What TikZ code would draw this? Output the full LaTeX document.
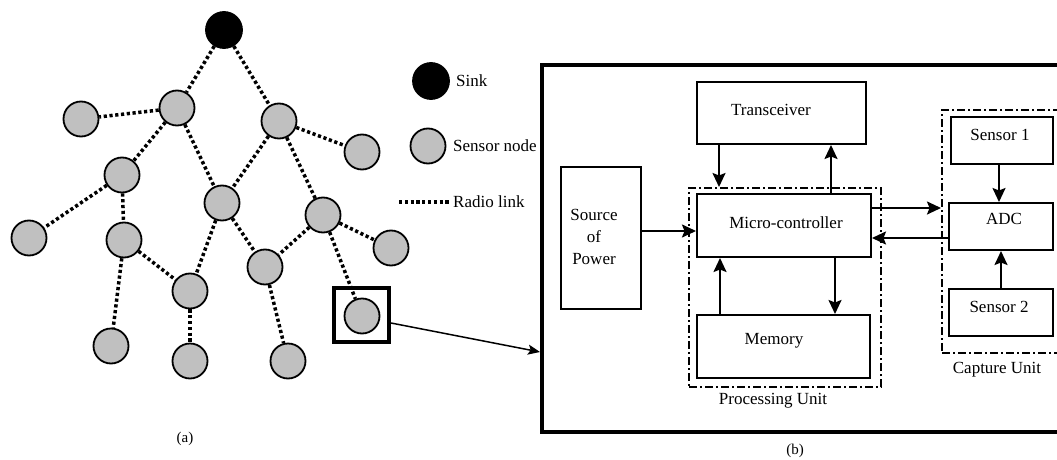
\documentclass[tikz,border=0pt]{standalone}
\usepackage{fontspec}
\setmainfont{Liberation Serif}
\usetikzlibrary{arrows.meta}
\begin{document}
\begin{tikzpicture}[x=1pt,y=-1pt,
  font=\fontsize{17}{22}\selectfont,
  sensor/.style={circle, draw, line width=1.8pt, fill=nodegray, minimum size=35pt, inner sep=0pt},
  sinknode/.style={circle, draw, line width=1.8pt, fill=black, minimum size=36pt, inner sep=0pt},
  radio/.style={line width=3.5pt, dash pattern=on 3.2pt off 2.6pt},
  blk/.style={draw, line width=2pt, inner sep=0pt},
  unit/.style={draw, line width=2pt, inner sep=0pt, dash pattern=on 8pt off 3pt on 2pt off 3pt},
  arr/.style={line width=2pt, -{Stealth[length=14pt, width=13pt, inset=2.5pt]}},
  zoomarr/.style={line width=1.5pt, -{Stealth[length=12pt, width=10pt, inset=2.5pt]}},
  lbl/.style={inner sep=0pt, anchor=west},
  txt/.style={inner sep=0pt}
]
\definecolor{nodegray}{RGB}{192,192,192}
\clip (0,0) rectangle (1057,460);
\fill[white] (0,0) rectangle (1057,460);

% ---------- (a) sensor network tree ----------
\node[sinknode] (sink) at (224,30) {};
\node[sensor] (A) at (177,108) {};
\node[sensor] (B) at (81,119) {};
\node[sensor] (C) at (279,121) {};
\node[sensor] (D) at (362,152) {};
\node[sensor] (E) at (122,175) {};
\node[sensor] (F) at (222,203) {};
\node[sensor] (G) at (323,215) {};
\node[sensor] (H) at (29,238) {};
\node[sensor] (I) at (124,240) {};
\node[sensor] (J) at (391,248) {};
\node[sensor] (K) at (265,267) {};
\node[sensor] (L) at (190,291) {};
\node[sensor] (M) at (362,316) {};
\node[sensor] (N) at (111,346) {};
\node[sensor] (O) at (190,361) {};
\node[sensor] (P) at (288,361) {};

\foreach \u/\v in {sink/A, sink/C, A/B, A/E, A/F, C/D, C/F, C/G,
                   E/H, E/I, I/L, I/N, F/L, F/K, G/K, G/J, G/M, L/O, K/P}
  \draw[radio] (\u) -- (\v);

% highlighted node
\node[draw, line width=4pt, minimum width=55pt, minimum height=54pt, inner sep=0pt] (focus) at (361.5,315) {};

% legend
\node[sinknode] (legsink) at (431,81) {};
\node[lbl] (legsinktxt) at (456,81) {Sink};
\node[sensor] (legnode) at (428,146) {};
\node[lbl] (legnodetxt) at (453,146) {Sensor node};
\coordinate (linkA) at (399,202);
\coordinate (linkB) at (450,202);
\draw[radio] (linkA) -- (linkB);
\node[lbl] (leglinktxt) at (453,202) {Radio link};

\node[txt, font=\fontsize{15}{18}\selectfont] (capa) at (185,439) {(a)};

% ---------- (b) sensor node architecture ----------
\node[draw, line width=4pt, minimum width=528pt, minimum height=367pt, inner sep=0pt] (panel) at (806,248.5) {};

\node[blk, minimum width=169pt, minimum height=62pt] (trx) at (781.5,113) {};
\node[txt] (trxtxt) at (771,110) {Transceiver};

\node[blk, minimum width=80pt, minimum height=142pt] (src) at (601,238) {};
\node[txt, align=center] (srctxt) at (594,237) {Source\\of\\Power};

\node[unit, minimum width=192pt, minimum height=199pt] (proc) at (785,287.5) {};
\node[txt] (proctxt) at (773,401) {Processing Unit};

\node[blk, minimum width=174pt, minimum height=63pt] (mcu) at (784,225.5) {};
\node[txt] (mcutxt) at (786,223) {Micro-controller};

\node[blk, minimum width=173pt, minimum height=63pt] (mem) at (783.5,346.5) {};
\node[txt] (memtxt) at (774,341) {Memory};

\node[unit, minimum width=122pt, minimum height=243pt] (cap) at (1003,231.5) {};
\node[txt] (captxt) at (997,370) {Capture Unit};

\node[blk, minimum width=102pt, minimum height=47pt] (s1) at (1002,140.5) {};
\node[txt] (s1txt) at (1000,135) {Sensor 1};

\node[blk, minimum width=104pt, minimum height=47pt] (adc) at (1001,226.5) {};
\node[txt] (adctxt) at (1004,219) {ADC};

\node[blk, minimum width=104pt, minimum height=47pt] (s2) at (1001,312.5) {};
\node[txt] (s2txt) at (999,307) {Sensor 2};

\node[txt, font=\fontsize{15}{18}\selectfont] (capb) at (795,451) {(b)};

% data paths
\draw[arr] ([xshift=-62.5pt]trx.south) -- ([xshift=-62.5pt]trx.south |- proc.north);
\draw[arr] ([xshift=47pt]mcu.north) -- ([xshift=47pt]mcu.north |- trx.south);
\draw[arr] ([yshift=7pt]src.east) -- ([yshift=7pt]src.east -| mcu.west);
\draw[arr] ([yshift=17.5pt]mcu.east) -- ([yshift=17.5pt]mcu.east -| cap.west);
\draw[arr] ([yshift=-11.5pt]adc.west) -- ([yshift=-11.5pt]adc.west -| mcu.east);
\draw[arr] ([xshift=-63.5pt]mem.north) -- ([xshift=-63.5pt]mem.north |- mcu.south);
\draw[arr] ([xshift=51pt]mcu.south) -- ([xshift=51pt]mcu.south |- mem.north);
\draw[arr] ([xshift=-3pt]s1.south) -- ([xshift=-3pt]s1.south |- adc.north);
\draw[arr] (s2.north) -- (adc.south);

% zoom-in connector
\draw[zoomarr] ([yshift=-8pt]focus.east) -- ([yshift=-103.5pt]panel.west);
\end{tikzpicture}
\end{document}
